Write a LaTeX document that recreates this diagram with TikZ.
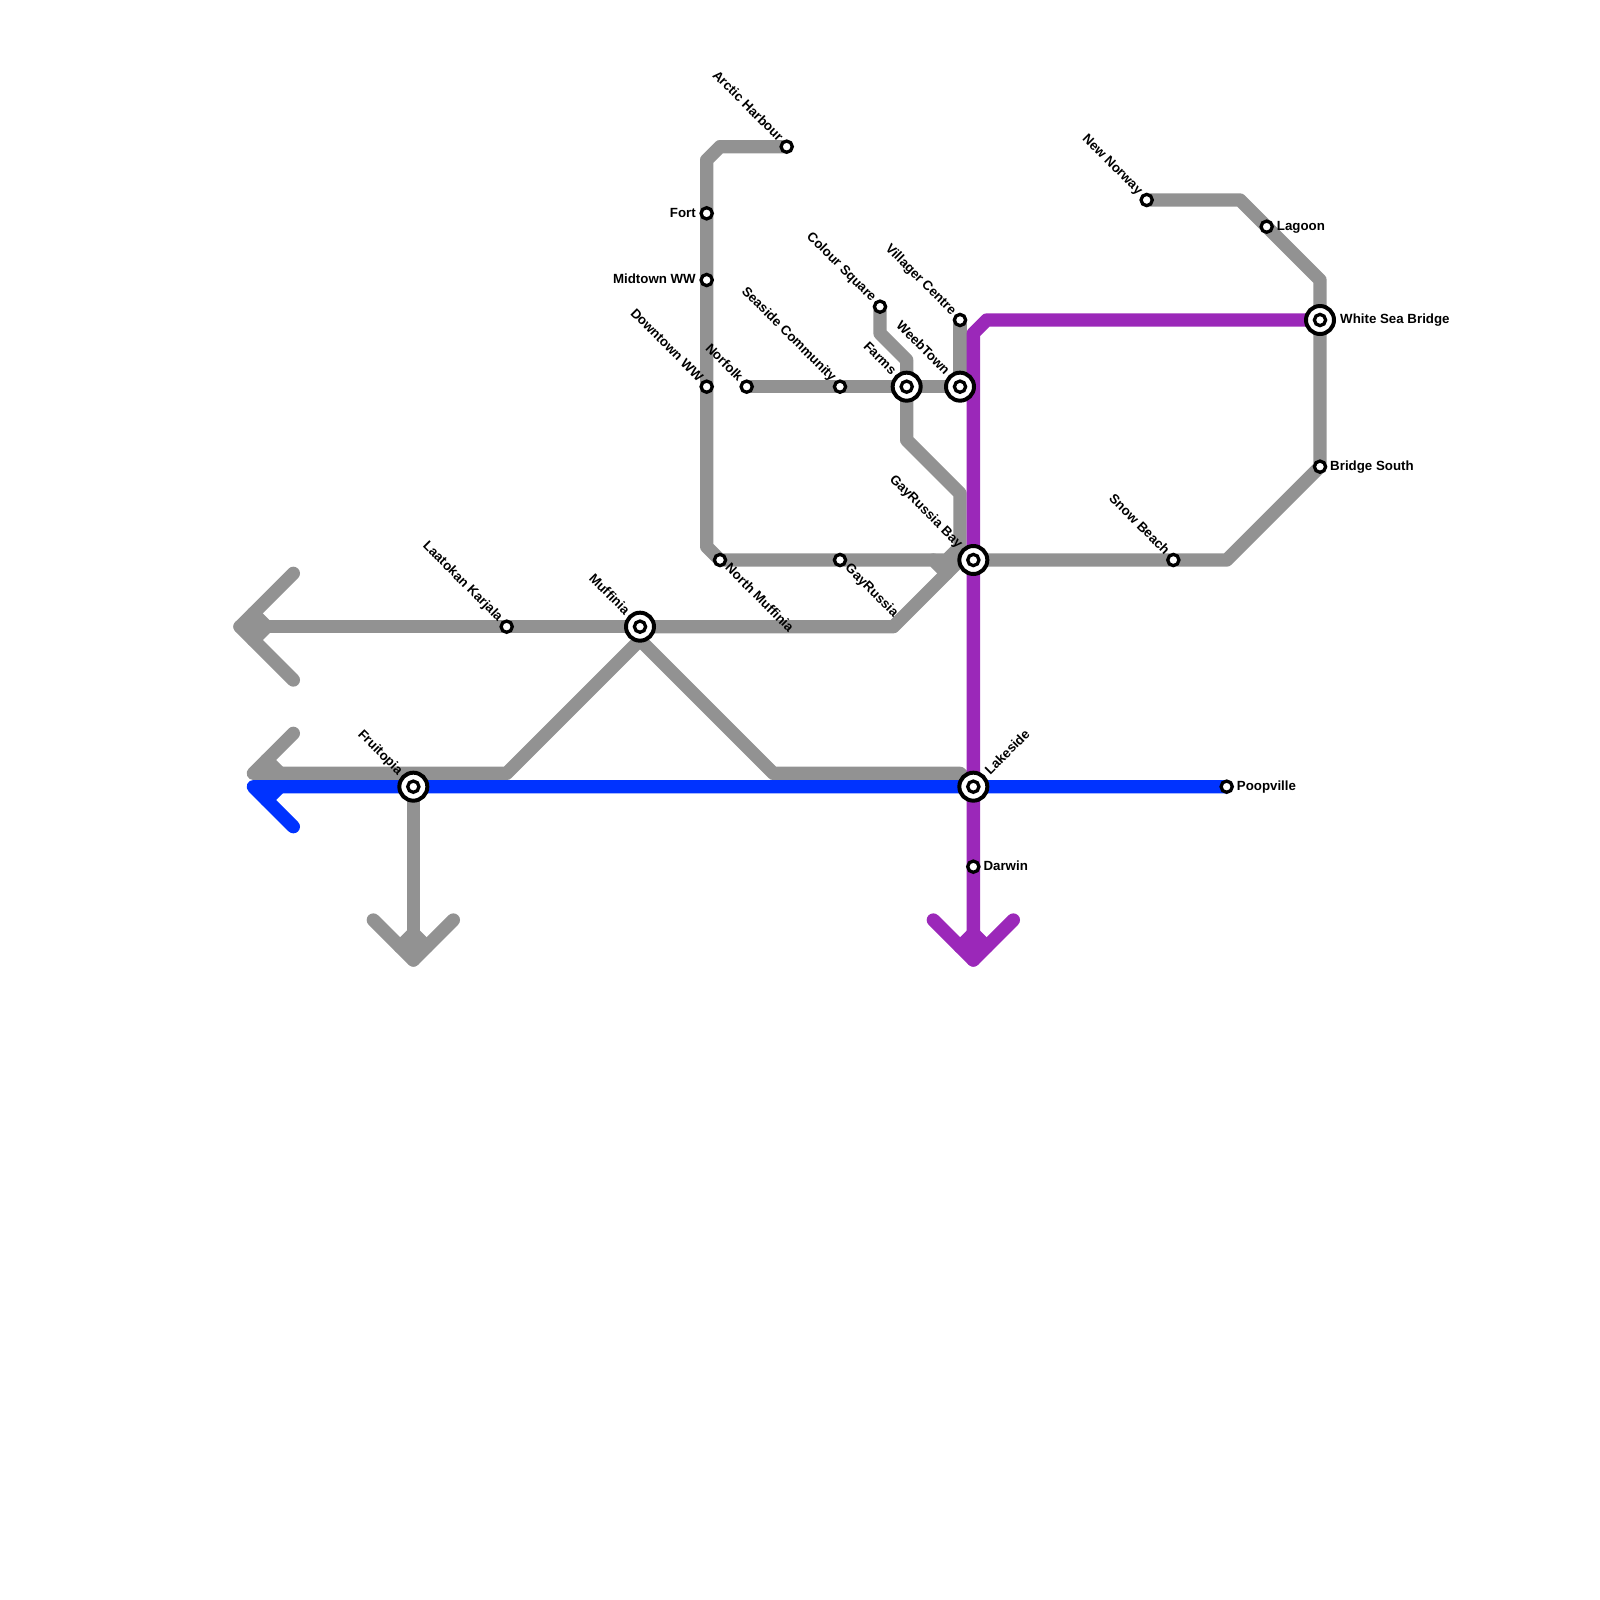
\documentclass[tikz,border=0pt]{standalone}
\usepackage{fontspec}
\setmainfont{Liberation Sans}
\usetikzlibrary{calc}

\begin{document}
\begin{tikzpicture}[
  x=0.4cm, y=-0.4cm,
  font=\fontsize{11.35}{12}\selectfont\bfseries,
  route/.style={line width=0.4cm, line join=round, line cap=round},
  stop/.style={circle, draw=black, fill=white, line width=2.8pt, minimum size=9.6pt, inner sep=0pt},
  hub/.style={circle, draw=black, fill=white, line width=3.4pt, minimum size=23.9pt, inner sep=0pt,
    path picture={\draw[black, line width=2.8pt] (path picture bounding box.center) circle (4.8pt);}},
  stopName/.style={inner sep=0pt, text height=0.72em, text depth=0.2em},
  nameL/.style={stopName, anchor=east},
  nameR/.style={stopName, anchor=west},
  nameUL/.style={stopName, anchor=east, rotate=-45},
  nameDR/.style={stopName, anchor=west, rotate=-45},
  nameUR/.style={stopName, anchor=west, rotate=45},
]
\definecolor{lineGrey}{HTML}{929292}
\definecolor{linePurple}{HTML}{9B28B9}
\definecolor{lineBlue}{HTML}{0033FF}

\useasboundingbox (0,0) rectangle (120,120);

% ---- 1. stations on the grid ----
\coordinate (arctic)   at (59,11);
\coordinate (fort)     at (53,16);
\coordinate (midtown)  at (53,21);
\coordinate (downtown) at (53,29);
\coordinate (norfolk)  at (56,29);
\coordinate (seaside)  at (63,29);
\coordinate (farms)    at (68,29);
\coordinate (weeb)     at (72,29);
\coordinate (colour)   at (66,23);
\coordinate (villager) at (72,24);
\coordinate (northM)   at (54,42);
\coordinate (gayR)     at (63,42);
\coordinate (gayBay)   at (73,42);
\coordinate (snow)     at (88,42);
\coordinate (laatokan) at (38,47);
\coordinate (muffinia) at (48,47);
\coordinate (fruitopia) at (31,59);
\coordinate (lakeside) at (73,59);
\coordinate (poopville) at (92,59);
\coordinate (darwin)   at (73,65);
\coordinate (norway)   at (86,15);
\coordinate (lagoon)   at (95,17);
\coordinate (whiteSea) at (99,24);
\coordinate (bridgeS)  at (99,35);

% ---- 2. grey lines ----
\draw[route, lineGrey] (arctic) -- (54,11) -- (53,12) -- (53,41) -- (northM) -- (70,42) -- (71,43);
\draw[route, lineGrey] (norfolk) -- (weeb);
\draw[route, lineGrey] (villager) -- (weeb);
\draw[route, lineGrey] (colour) -- (66,25) -- (68,27) -- (68,33) -- (72,37) -- (72,41) -- (71,42) -- (70,42);
\draw[route, lineGrey] (gayBay) -- (72,42) -- (67,47) -- (muffinia);
\draw[route, lineGrey] (gayBay) -- (92,42) -- (bridgeS) -- (99,21) -- (93,15) -- (norway);

% left arrow from Muffinia
\draw[route, lineGrey] (muffinia) -- (18,47);
\draw[route, lineGrey] (22,43) -- (18,47) -- (22,51);
\draw[route, lineGrey] (19,46) -- (20,47) -- (19,48);

% the two branches under Muffinia
\draw[route, lineGrey] (48,48) -- (38,58) -- (19,58) -- (22,55);
\draw[route, lineGrey] (20,57) -- (21,58);
\draw[route, lineGrey] (48,48) -- (58,58) -- (72,58) -- (lakeside);

% down arrow from Fruitopia
\draw[route, lineGrey] (fruitopia) -- (31,72);
\draw[route, lineGrey] (28,69) -- (31,72) -- (34,69);
\draw[route, lineGrey] (30,71) -- (31,70) -- (32,71);

% ---- 3. purple line ----
\draw[route, linePurple] (whiteSea) -- (74,24) -- (73,25) -- (73,72);
\draw[route, linePurple] (70,69) -- (73,72) -- (76,69);
\draw[route, linePurple] (72,71) -- (73,70) -- (74,71);

% ---- 4. blue line ----
\draw[route, lineBlue] (poopville) -- (19,59) -- (22,62);
\draw[route, lineBlue] (20,60) -- (21,59);

% ---- 5. stations on top ----
\node[stop] (arcticStop)   at (arctic) {};
\node[stop] (fortStop)     at (fort) {};
\node[stop] (midtownStop)  at (midtown) {};
\node[stop] (downtownStop) at (downtown) {};
\node[stop] (norfolkStop)  at (norfolk) {};
\node[stop] (seasideStop)  at (seaside) {};
\node[stop] (colourStop)   at (colour) {};
\node[stop] (villagerStop) at (villager) {};
\node[stop] (northMStop)   at (northM) {};
\node[stop] (gayRStop)     at (gayR) {};
\node[stop] (snowStop)     at (snow) {};
\node[stop] (laatokanStop) at (laatokan) {};
\node[stop] (poopvilleStop) at (poopville) {};
\node[stop] (darwinStop)   at (darwin) {};
\node[stop] (norwayStop)   at (norway) {};
\node[stop] (lagoonStop)   at (lagoon) {};
\node[stop] (bridgeSStop)  at (bridgeS) {};
\node[hub] (farmsHub)     at (farms) {};
\node[hub] (weebHub)      at (weeb) {};
\node[hub] (gayBayHub)    at (gayBay) {};
\node[hub] (muffiniaHub)  at (muffinia) {};
\node[hub] (fruitopiaHub) at (fruitopia) {};
\node[hub] (lakesideHub)  at (lakeside) {};
\node[hub] (whiteSeaHub)  at (whiteSea) {};

% ---- 6. names ----
\node[nameUL] (arcticName)   at ($(arctic)+(-0.5,-0.5)$) {Arctic Harbour};
\node[nameL]  (fortName)     at ($(fort)+(-0.8,0.07)$) {Fort};
\node[nameL]  (midtownName)  at ($(midtown)+(-0.8,0.07)$) {Midtown WW};
\node[nameUL] (downtownName) at ($(downtown)+(-0.5,-0.5)$) {Downtown WW};
\node[nameUL] (norfolkName)  at ($(norfolk)+(-0.5,-0.5)$) {Norfolk};
\node[nameUL] (seasideName)  at ($(seaside)+(-0.5,-0.5)$) {Seaside Community};
\node[nameUL] (colourName)   at ($(colour)+(-0.5,-0.5)$) {Colour Square};
\node[nameUL] (villagerName) at ($(villager)+(-0.5,-0.5)$) {Villager Centre};
\node[nameUL] (farmsName)    at ($(farms)+(-1,-1)$) {Farms};
\node[nameUL] (weebName)     at ($(weeb)+(-1,-1)$) {WeebTown};
\node[nameUL] (gayBayName)   at ($(gayBay)+(-1,-1)$) {GayRussia Bay};
\node[nameUL] (muffiniaName) at ($(muffinia)+(-1,-1)$) {Muffinia};
\node[nameUL] (fruitopiaName) at ($(fruitopia)+(-1,-1)$) {Fruitopia};
\node[nameUL] (laatokanName) at ($(laatokan)+(-0.5,-0.5)$) {Laatokan Karjala};
\node[nameUL] (snowName)     at ($(snow)+(-0.5,-0.5)$) {Snow Beach};
\node[nameUL] (norwayName)   at ($(norway)+(-0.5,-0.5)$) {New Norway};
\node[nameDR] (northMName)   at ($(northM)+(0.5,0.5)$) {North Muffinia};
\node[nameDR] (gayRName)     at ($(gayR)+(0.5,0.5)$) {GayRussia};
\node[nameUR] (lakesideName) at ($(lakeside)+(1.1,-1)$) {Lakeside};
\node[nameR]  (poopvilleName) at ($(poopville)+(0.75,0.07)$) {Poopville};
\node[nameR]  (darwinName)   at ($(darwin)+(0.75,0.07)$) {Darwin};
\node[nameR]  (lagoonName)   at ($(lagoon)+(0.75,0.07)$) {Lagoon};
\node[nameR]  (whiteSeaName) at ($(whiteSea)+(1.5,0.07)$) {White Sea Bridge};
\node[nameR]  (bridgeSName)  at ($(bridgeS)+(0.75,0.07)$) {Bridge South};

\end{tikzpicture}
\end{document}
